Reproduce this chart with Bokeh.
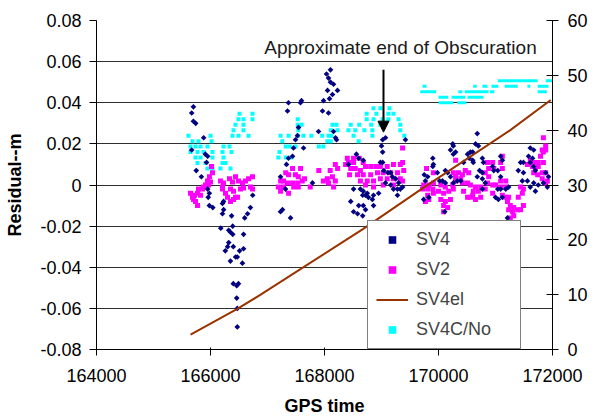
import math
from bokeh.plotting import figure
from bokeh.models import (Range1d, LinearAxis, Legend, LegendItem, Label, Arrow,
                          NormalHead, FixedTicker)
from bokeh.embed import file_html
from bokeh.resources import INLINE

FONT = "Liberation Sans"

# ---------------- data ----------------
# SV4 residuals (GPS time, metres)
sv4_t = [165670, 165700, 165700, 165740, 165880, 165670, 165910, 165950, 165930, 165750,
         165840, 165950, 165980, 165960, 165980, 166040, 166210, 166230, 166230, 166210,
         166370, 166600, 166650, 166700, 166740, 166180, 166390, 166320, 166350, 166390,
         166580, 166320, 166300, 166260, 166400, 166510, 166580, 166440, 166470, 166350,
         166560, 166400, 166460, 166490, 166460, 166470, 166470,
         168105, 168035, 168070, 168105, 168158, 168228, 168053, 168140, 168088, 167983,
         167597, 167579, 167368, 167351, 167965, 168070, 167895, 168158, 168193, 168211,
         167544, 167526, 167491, 167632, 167456, 167439, 167368, 167333, 167228, 167263,
         167228, 167404, 167789, 167316,
         169020, 169070, 169000, 169020, 169420, 168560, 168420, 168600, 168680, 169020,
         168980, 168510, 168630, 168680, 168750, 168670, 168720, 168770, 168860, 168950,
         168460, 168600, 168680, 168720, 168510, 168580, 168670, 168860, 168900, 169070,
         169160, 169300, 169370, 169210, 169280, 169330, 169190, 169250, 169110, 169160,
         169040, 168840, 169280,
         170680, 170250, 170260, 170210, 170300, 170260, 169900, 169910, 169900, 169750,
         169810, 169770, 169980, 170120, 170160, 170210, 170020, 170070, 170120, 170330,
         170390, 170260, 169740, 169830, 170110, 170510, 170560, 170600, 170540, 170600,
         170610, 170650, 170700, 170440, 170770, 170790, 170720, 170770, 170680, 170770,
         171090, 171120, 170950, 170970, 170820, 170770, 171040, 171090, 171180, 171230,
         171000, 171050, 171120, 171210, 171440, 171490, 171400, 171490, 171470, 171560,
         171580, 171650, 171610, 171670, 171700, 171670, 171750, 171840, 171910, 171880,
         171930, 171610, 171670, 171610, 171700, 171090, 171040]
sv4_r = [0.035, 0.038, 0.031, 0.030, 0.023, 0.017, 0.015, 0.014, 0.011, 0.007,
         0.004, -0.002, -0.004, -0.006, -0.010, -0.011, -0.009, -0.008, -0.012, -0.014,
         -0.015, -0.016, -0.014, -0.011, -0.005, -0.021, -0.020, -0.022, -0.023, -0.024,
         -0.024, -0.028, -0.030, -0.032, -0.030, -0.032, -0.031, -0.035, -0.035, -0.037,
         -0.038, -0.048, -0.049, -0.048, -0.055, -0.060, -0.069,
         0.056, 0.054, 0.052, 0.050, 0.049, 0.046, 0.046, 0.044, 0.042, 0.041,
         0.041, 0.040, 0.040, 0.036, 0.036, 0.035, 0.026, 0.026, 0.023, 0.022,
         0.028, 0.024, 0.022, 0.018, 0.018, 0.014, 0.013, 0.010, 0.004, -0.012,
         -0.013, -0.016, 0.001, -0.002,
         0.022, 0.023, 0.019, 0.016, 0.022, 0.015, 0.010, 0.013, 0.012, 0.011,
         0.011, -0.002, -0.002, -0.003, -0.004, -0.005, -0.005, -0.006, -0.005, -0.004,
         -0.008, -0.010, -0.010, -0.012, -0.013, -0.014, -0.015, -0.010, -0.020, 0.001,
         0.000, 0.001, -0.001, -0.002, -0.002, -0.002, 0.004, 0.003, 0.006, 0.006,
         0.007, -0.007, -0.005,
         0.025, 0.020, 0.019, 0.017, 0.016, 0.015, 0.013, 0.010, 0.009, 0.005,
         0.004, 0.002, 0.006, 0.007, 0.006, 0.004, 0.002, 0.002, 0.001, 0.002,
         0.002, 0.001, -0.007, -0.006, -0.013, 0.015, 0.016, 0.016, 0.013, 0.012,
         0.011, 0.020, 0.019, 0.011, 0.013, 0.011, 0.007, 0.006, 0.004, 0.003,
         0.014, 0.012, 0.009, 0.007, 0.001, -0.002, -0.002, -0.002, -0.002, -0.001,
         -0.006, -0.007, -0.006, -0.016, 0.011, 0.011, 0.007, 0.006, 0.002, 0.002,
         0.014, 0.013, 0.011, 0.009, 0.007, 0.001, 0.000, 0.001, -0.001, 0.006,
         0.004, 0.018, 0.017, -0.001, -0.003, 0.004, 0.007]

# SV2 residuals (GPS time, metres)
sv2_t = [166018, 166035, 165982, 165947, 165912, 165877, 165860, 165789, 165772, 165719,
         165684, 165702, 165737, 165772, 165825, 165965, 166000, 165649, 166175, 166228,
         166211, 166263, 166298, 166351, 166404, 166439, 166474, 166333, 166386, 166439,
         166491, 166561, 166614, 166667, 166737, 166702, 166737, 166579, 166526, 166404,
         166351, 166211,
         167440, 167580, 167320, 167370, 167490, 167540, 167230, 167280, 167350, 167440,
         167530, 167610, 167650, 167190, 167280, 167460, 167540, 167750, 167230, 167370,
         167900, 168100, 168190, 168230, 168050, 168140, 168190, 167980, 168070, 168160,
         168400, 168510, 168610, 168370, 168420, 168510, 168680, 168460, 168540, 168630,
         168720, 168810, 168900, 168980, 169100, 169210, 169330, 169370, 169370, 168580,
         168680, 168810, 168930, 169030, 169160, 169280, 169390, 168630, 168750, 168860,
         168980, 169100, 169210, 169330, 168720, 168860, 169030, 169210, 169370, 168440,
         169790, 169910, 169740, 169830, 169910, 169720, 169810, 169900, 169810, 169910,
         169830, 169770, 170040, 170120, 170250, 170000, 170090, 170180, 170260, 170040,
         170120, 170210, 170090, 170160, 170090, 170300, 170260, 170350, 170420, 170300,
         170390, 170470, 170530, 170300, 170420, 170510, 170560, 170650, 170740, 170610,
         170700, 170440, 170510, 170560, 170650, 170600, 170740, 170860, 170950, 170880,
         170970, 170820, 170880, 170860, 170950, 170820, 170950, 171090, 171180, 171000,
         171090, 171180, 171120, 171180, 171230, 171210, 171260, 171320, 171230, 171300,
         171390, 171320, 171260, 171260, 171300, 171350, 171440, 171490, 171400, 171470,
         171440, 171490, 171090, 171120, 171120, 171610, 171670, 171650, 171700, 171750,
         171670, 171740, 171820, 171880, 171790, 171840, 171820, 171880, 171880, 171840,
         171820, 171910, 171880, 171750, 171840, 171560]
sv2_r = [0.009, 0.006, 0.004, 0.002, 0.000, -0.001, -0.002, -0.002, -0.004, -0.005,
         -0.006, -0.007, -0.008, -0.010, -0.005, 0.000, 0.0015, -0.004, 0.002, 0.001,
         -0.002, -0.004, -0.006, -0.008, -0.007, -0.006, -0.006, 0.003, 0.0015, 0.004,
         0.002, 0.001, 0.002, 0.003, 0.004, -0.001, -0.002, -0.0015, -0.002, -0.003,
         -0.002, -0.001,
         0.008, 0.008, 0.006, 0.005, 0.005, 0.004, 0.002, 0.002, 0.001, 0.001,
         0.001, 0.002, 0.003, -0.001, -0.001, -0.001, -0.001, -0.001, -0.003, -0.004,
         0.007, 0.007, 0.010, 0.008, 0.003, 0.004, 0.002, 0.002, 0.001, -0.001,
         0.013, 0.013, 0.013, 0.010, 0.011, 0.011, 0.011, 0.008, 0.008, 0.007,
         0.009, 0.009, 0.009, 0.009, 0.009, 0.010, 0.010, 0.011, 0.018, 0.005,
         0.005, 0.005, 0.006, 0.006, 0.006, 0.006, 0.007, 0.002, 0.002, 0.002,
         0.003, 0.003, 0.003, 0.003, 0.000, -0.001, 0.000, 0.000, 0.002, 0.005,
         0.008, 0.006, 0.000, 0.000, 0.001, -0.002, -0.002, -0.002, -0.005, -0.004,
         -0.007, -0.008, 0.000, -0.001, 0.000, -0.003, -0.004, -0.003, -0.002, -0.007,
         -0.008, -0.007, -0.010, -0.011, -0.013, 0.012, 0.006, 0.006, 0.005, 0.004,
         0.003, 0.007, 0.006, 0.002, 0.001, 0.001, 0.000, -0.001, -0.001, -0.003,
         -0.003, -0.003, -0.006, -0.006, -0.007, -0.005, -0.006, 0.011, 0.011, 0.008,
         0.008, 0.006, 0.004, 0.001, 0.000, -0.002, -0.004, 0.002, 0.002, 0.000,
         -0.001, -0.001, -0.005, -0.006, -0.006, -0.008, -0.010, -0.011, -0.012, -0.013,
         -0.012, -0.015, -0.016, -0.022, -0.021, -0.019, -0.012, -0.010, -0.006, -0.004,
         -0.001, -0.002, 0.011, 0.008, 0.014, 0.012, 0.011, 0.009, 0.008, 0.009,
         0.006, 0.005, 0.006, 0.006, 0.014, 0.016, 0.017, 0.017, 0.019, 0.023,
         0.003, 0.002, 0.001, 0.011, 0.011, 0.010]

# SV4 elevation (GPS time, degrees)
el_t = [165650, 166470, 166880, 168680, 169680, 171260, 171970]
el_deg = [2.7, 7.4, 10.0, 22.0, 29.1, 40.0, 45.5]

# SV4 C/No single readings (GPS time, dB)
cn_t = [165614, 165684, 165789, 166000, 166018, 165649, 165737, 165825, 165947, 165649,
        165772, 165877, 166035, 165737, 165825, 166035, 165772, 165912, 165947, 166035,
        166228, 166333, 166211, 166368, 166228, 166211, 166263, 166175, 166351, 166509,
        166737, 166491, 166579, 166737, 166439, 166579, 166404, 166579, 166386, 166491,
        166667,
        167530, 167530, 167600, 167540, 167230, 167370, 167530, 167630, 167770, 167260,
        167320, 167390, 167490, 167210, 167190, 167320, 167420, 167900, 167980, 167960,
        168070, 168120, 168140, 168210, 168110, 168230, 168050, 168110,
        168860, 168980, 169140, 168740, 168910, 169120, 169210, 168740, 168860, 169020,
        169120, 169300, 168460, 168610, 168820, 168980, 169330, 168420, 168540, 168700,
        168840, 169330, 168510, 168840, 169400, 168600]
cn_db = [39, 38, 38, 39, 38, 37, 37, 37, 37, 36,
         36, 36, 36, 35, 35, 35, 34, 34, 33, 33,
         37, 37, 36, 36, 35, 34, 34, 33, 33, 43,
         43, 42, 42, 42, 41, 41, 40, 40, 39, 39,
         39,
         42, 41, 41, 40, 39, 39, 39, 39, 39, 38,
         37, 37, 37, 36, 35, 35, 35, 37, 37, 39,
         39, 39, 41, 41, 40, 40, 38, 38,
         44, 44, 44, 43, 43, 43, 43, 42, 42, 42,
         42, 42, 41, 41, 41, 41, 41, 40, 40, 40,
         40, 40, 39, 39, 39, 38]

# SV4 C/No runs of constant reading after the obscuration (start, end, dB)
cn_run_start = [169720, 170610, 170770, 170930, 171160, 171560, 171740, 169680, 170350, 170460,
                170900, 171740, 170000, 170230, 170510, 170000, 170330, 171040, 171880]
cn_run_end = [169790, 170670, 170860, 171050, 171390, 171610, 171930, 169960, 170420, 170880,
              170980, 171900, 170170, 170470, 170790, 170260, 170490, 171740, 172000]
cn_run_db = [48, 48, 48, 48, 48, 48, 48, 47, 47, 47,
             47, 47, 46, 46, 46, 45, 45, 49, 49]

x_ticks = [164000, 166000, 168000, 170000, 172000]
x_tick_labels = ["164000", "166000", "168000", "170000", "172000"]
res_ticks = [-0.08, -0.06, -0.04, -0.02, 0, 0.02, 0.04, 0.06, 0.08]
res_tick_labels = ["-0.08", "-0.06", "-0.04", "-0.02", "0", "0.02", "0.04", "0.06", "0.08"]
el_ticks = [0, 10, 20, 30, 40, 50, 60]
el_tick_labels = ["0", "10", "20", "30", "40", "50", "60"]

# ---------------- figure ----------------
p = figure(width=608, height=418, output_backend="svg", toolbar_location=None,
           x_range=Range1d(164000, 172000), y_range=Range1d(-0.08, 0.08),
           min_border_left=96, min_border_right=56, min_border_top=20, min_border_bottom=68)
p.extra_y_ranges = {"el": Range1d(0, 60)}
p.outline_line_color = None
p.background_fill_color = "white"
p.border_fill_color = "white"

p.xgrid.visible = False
p.ygrid.ticker = FixedTicker(ticks=res_ticks)
p.ygrid.grid_line_color = "#2e2e2e"
p.ygrid.grid_line_width = 1

xa = p.xaxis[0]
xa.ticker = FixedTicker(ticks=x_ticks)
xa.major_label_overrides = dict(zip(x_ticks, x_tick_labels))
xa.axis_label = "GPS time"
xa.major_tick_in = 2
xa.major_tick_out = 6
xa.major_label_standoff = 13
xa.axis_label_standoff = 11

ya = p.yaxis[0]
ya.ticker = FixedTicker(ticks=res_ticks)
ya.major_label_overrides = dict(zip(res_ticks, res_tick_labels))
ya.axis_label = "Residual--m"
ya.major_tick_in = 0
ya.major_tick_out = 7
ya.major_label_standoff = 8
ya.axis_label_standoff = 12

ra = LinearAxis(y_range_name="el", ticker=FixedTicker(ticks=el_ticks))
ra.major_label_overrides = dict(zip(el_ticks, el_tick_labels))
ra.major_tick_in = 6
ra.major_tick_out = 6
ra.major_label_standoff = 9
p.add_layout(ra, "right")

for ax in (xa, ya, ra):
    ax.minor_tick_line_color = None
    ax.axis_line_color = "black"
    ax.major_tick_line_color = "black"
    ax.major_label_text_font = FONT
    ax.major_label_text_font_size = "18px"
    ax.major_label_text_color = "black"
    ax.axis_label_text_font = FONT
    ax.axis_label_text_font_size = "18px"
    ax.axis_label_text_font_style = "bold"
    ax.axis_label_text_color = "black"

# ---------------- glyphs ----------------
p.hbar(y=cn_run_db, left=cn_run_start, right=cn_run_end, height=0.55,
       y_range_name="el", fill_color="#00FFFF", line_color=None)
r_cn = p.scatter(cn_t, cn_db, marker="square", size=4, y_range_name="el",
                 fill_color="#00FFFF", line_color=None)
r_sv2 = p.scatter(sv2_t, sv2_r, marker="square", size=5,
                  fill_color="#FF00FF", line_color=None)
r_sv4 = p.scatter(sv4_t, sv4_r, marker="square", angle=math.pi / 4, size=4,
                  fill_color="#000080", line_color=None)
r_el = p.line(el_t, el_deg, y_range_name="el", line_color="#993300", line_width=2)

# ---------------- annotations ----------------
p.add_layout(Label(x=169333, y=0.0669, text="Approximate end of Obscuration",
                   text_align="center", text_baseline="middle",
                   text_font=FONT, text_font_size="19px", text_color="#1a1a1a"))
p.add_layout(Arrow(end=NormalHead(size=11, fill_color="black", line_color="black"),
                   x_start=169035, y_start=0.056, x_end=169035, y_end=0.0257,
                   line_color="black", line_width=2))
p.add_layout(Label(x=172807, y=0.0, text="Elevation--deg & C/No--dB", angle=math.pi / 2,
                   text_align="center", text_baseline="middle",
                   text_font=FONT, text_font_size="18px", text_font_style="bold",
                   text_color="black"))

legend = Legend(items=[LegendItem(label="SV4", renderers=[r_sv4]),
                       LegendItem(label="SV2", renderers=[r_sv2]),
                       LegendItem(label="SV4el", renderers=[r_el]),
                       LegendItem(label="SV4C/No", renderers=[r_cn])],
                location=(271, 0))
legend.padding = 8
legend.margin = 0
legend.spacing = 9
legend.label_height = 19
legend.glyph_height = 19
legend.glyph_width = 32
legend.label_standoff = 8
legend.label_width = 96
legend.label_text_font = FONT
legend.label_text_font_size = "18px"
legend.border_line_color = "black"
legend.border_line_width = 1
legend.background_fill_color = "white"
legend.background_fill_alpha = 1.0
p.add_layout(legend)

open("out.html", "w").write(file_html(p, INLINE))
